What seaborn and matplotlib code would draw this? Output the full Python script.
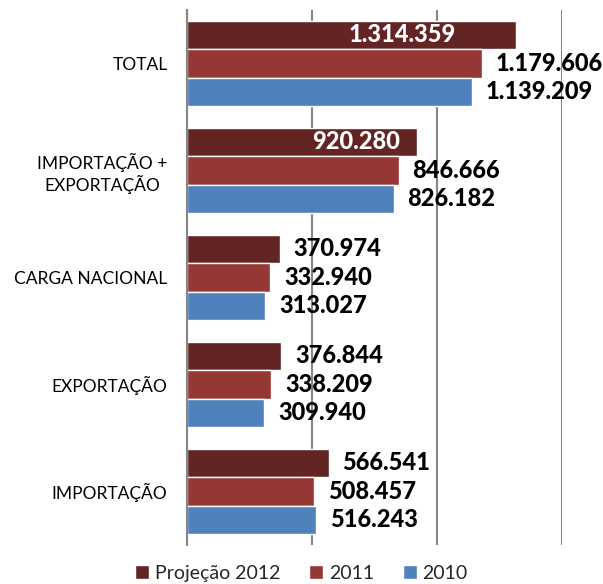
import pandas as pd
import numpy as np
import matplotlib.pyplot as plt
import seaborn as sns
from matplotlib.ticker import MultipleLocator, FixedLocator

# Dados (em toneladas)
categorias = ['TOTAL', 'IMPORTAÇÃO +\nEXPORTAÇÃO', 'CARGA NACIONAL', 'EXPORTAÇÃO', 'IMPORTAÇÃO']
series = ['Projeção 2012', '2011', '2010']
val2012 = [1314359, 920280, 370974, 376844, 566541]
val2011 = [1179606, 846666, 332940, 338209, 508457]
val2010 = [1139209, 826182, 313027, 309940, 516243]
cores = ['#632523', '#953735', '#4F81BD']

df = pd.DataFrame({
    'categoria': categorias * 3,
    'serie': [s for s in series for _ in categorias],
    'valor': val2012 + val2011 + val2010,
})

sns.set_style('white')
plt.rcParams['font.family'] = ['Lato', 'DejaVu Sans']

fig = plt.figure(figsize=(6.03, 5.84), dpi=100)
ax = fig.add_axes([0.310, 0.067, 0.622, 0.916])

sns.barplot(data=df, y='categoria', x='valor', hue='serie', order=categorias,
            hue_order=series, palette=cores, orient='h', width=0.8,
            saturation=1, ax=ax, legend=True)

ax.set_xlim(0, 1500000)
ax.xaxis.set_major_locator(MultipleLocator(500000))
ax.tick_params(axis='x', length=0, labelbottom=False)
ax.grid(axis='x', color='#868686', linewidth=1.5)
ax.set_axisbelow(True)
ax.set_xlabel('')
ax.set_ylabel('')

for s in ['top', 'right', 'bottom']:
    ax.spines[s].set_visible(False)
ax.spines['left'].set_color('#868686')
ax.spines['left'].set_linewidth(1.5)

ax.tick_params(axis='y', which='major', length=0, pad=14, labelsize=12.5, labelcolor='#000000')
ax.yaxis.set_minor_locator(FixedLocator(np.arange(-0.5, len(categorias), 1)))
ax.tick_params(axis='y', which='minor', length=5, width=1.5, color='#868686')
for lbl in ax.get_yticklabels():
    lbl.set_multialignment('center')

# rotulos de dados
def fmt(v):
    return f'{v:,}'.replace(',', '.')

dentro = {('Projeção 2012', 0): 60, ('Projeção 2012', 1): 17}
for i, cont in enumerate(ax.containers):
    serie = series[i]
    for j, bar in enumerate(cont):
        v = bar.get_width()
        yc = bar.get_y() + bar.get_height() / 2
        if (serie, j) in dentro:
            ax.annotate(fmt(int(round(v))), (v, yc), xytext=(-dentro[(serie, j)] * 0.72, 0),
                        textcoords='offset points', ha='right', va='center',
                        fontsize=17, fontweight='black', color='white')
        else:
            ax.annotate(fmt(int(round(v))), (v, yc), xytext=(10, 0),
                        textcoords='offset points', ha='left', va='center',
                        fontsize=17, fontweight='black', color='black',
                        annotation_clip=False)

leg = ax.legend(loc='center', bbox_to_anchor=(0.5, 0.018), bbox_transform=fig.transFigure,
                ncol=3, frameon=False, fontsize=14, handlelength=0.7, handleheight=0.7,
                handletextpad=0.3, columnspacing=1.5, borderpad=0)

fig.savefig('out.png', dpi=100)
